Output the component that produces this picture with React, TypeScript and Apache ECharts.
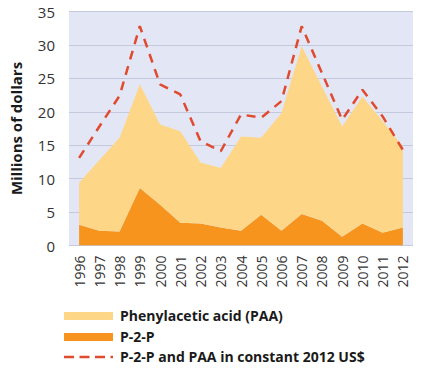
import React, { useEffect, useRef } from "react";
import * as echarts from "echarts";

const years = ["1996","1997","1998","1999","2000","2001","2002","2003","2004","2005","2006","2007","2008","2009","2010","2011","2012"];
const p2p = [3.1, 2.2, 2.1, 8.6, 6.1, 3.4, 3.3, 2.7, 2.2, 4.6, 2.2, 4.7, 3.7, 1.3, 3.3, 1.9, 2.7];
const paa = [6.3, 10.6, 14.0, 15.5, 12.0, 13.7, 9.1, 8.9, 14.1, 11.5, 17.6, 25.1, 20.1, 16.5, 19.0, 16.7, 12.1];
const constant2012 = [13.1, 17.8, 22.4, 32.8, 24.1, 22.6, 15.6, 14.1, 19.6, 19.1, 21.6, 32.8, 25.8, 18.8, 23.3, 19.3, 14.3];
const yTicks = { min: 0, max: 35, interval: 5 };
const legendNames = ["Phenylacetic acid (PAA)", "P-2-P", "P-2-P and PAA in constant 2012 US$"];

const FONT = "'Open Sans', 'Noto Sans', sans-serif";
const C_PAA = "#fdd688";
const C_P2P = "#f7941e";
const C_LINE = "#e04a2e";

export default function App() {
  const ref = useRef<HTMLDivElement>(null);
  useEffect(() => {
    if (!ref.current) return;
    const chart = echarts.init(ref.current, null, { renderer: "svg" });
    const textStyle = (y: number, t: string) => ({
      type: "text", left: 120, top: y,
      style: { text: t, fontFamily: FONT, fontSize: 14, fontWeight: "bold", fill: "#1a1a1a" },
    });
    chart.setOption({
      animation: false,
      textStyle: { fontFamily: FONT },
      grid: {
        left: 63, right: 8, top: 11.5, bottom: 123.5,
        show: true, backgroundColor: "#e3e6f5", borderWidth: 0,
      },
      graphic: [
        { type: "rect", shape: { x: 64, y: 312, width: 49, height: 8 }, style: { fill: C_PAA } },
        textStyle(308, legendNames[0]),
        { type: "rect", shape: { x: 64, y: 333, width: 49, height: 8 }, style: { fill: C_P2P } },
        textStyle(329, legendNames[1]),
        { type: "line", shape: { x1: 64, y1: 357, x2: 113, y2: 357 }, style: { stroke: C_LINE, lineWidth: 2.5, lineDash: [10, 5.5] } },
        textStyle(349, legendNames[2]),
      ],
      xAxis: {
        type: "category",
        data: years,
        boundaryGap: true,
        axisLine: { show: false },
        axisTick: { show: false },
        axisLabel: { rotate: 90, fontSize: 14, color: "#333", margin: 10, fontFamily: FONT },
      },
      yAxis: {
        type: "value",
        min: yTicks.min, max: yTicks.max, interval: yTicks.interval,
        name: "Millions of dollars",
        nameLocation: "middle",
        nameGap: 46,
        nameTextStyle: { fontSize: 15, fontWeight: "bold", color: "#1a1a1a", fontFamily: FONT },
        axisLine: { show: false },
        axisTick: { show: false },
        axisLabel: { fontSize: 15, color: "#333", margin: 14, fontFamily: FONT },
        splitLine: { lineStyle: { color: "#c5c9de", width: 1 } },
      },
      series: [
        {
          name: legendNames[1], type: "line", stack: "total", data: p2p,
          showSymbol: false, symbol: "none",
          lineStyle: { width: 0, color: C_P2P },
          itemStyle: { color: C_P2P },
          areaStyle: { color: C_P2P, opacity: 1 },
        },
        {
          name: legendNames[0], type: "line", stack: "total", data: paa,
          showSymbol: false, symbol: "none",
          lineStyle: { width: 0, color: C_PAA },
          itemStyle: { color: C_PAA },
          areaStyle: { color: C_PAA, opacity: 1 },
        },
        {
          name: legendNames[2], type: "line", data: constant2012,
          showSymbol: false, symbol: "none",
          lineStyle: { width: 2.5, color: C_LINE, type: [9, 7] },
          itemStyle: { color: C_LINE },
          z: 5,
        },
      ],
    });
    return () => chart.dispose();
  }, []);
  return <div ref={ref} style={{ width: 421, height: 369, position: "absolute", left: 0, top: 0 }} />;
}
